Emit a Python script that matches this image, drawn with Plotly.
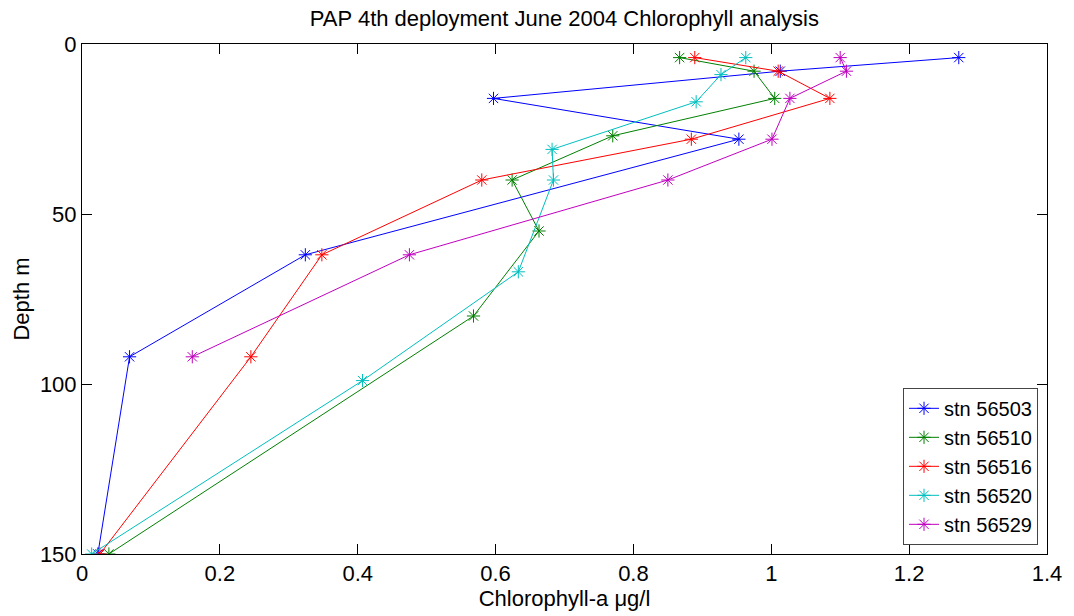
import plotly.graph_objects as go

# Data (chlorophyll-a in ug/l vs depth in m)
stations = ["stn 56503", "stn 56510", "stn 56516", "stn 56520", "stn 56529"]

depth_56503 = [4, 8, 16, 28, 62, 92, 150]
chl_56503 = [1.272, 1.013, 0.597, 0.953, 0.324, 0.069, 0.023]

depth_56510 = [4, 8, 16, 27, 40, 55, 80, 150]
chl_56510 = [0.867, 0.975, 1.005, 0.770, 0.624, 0.663, 0.568, 0.039]

depth_56516 = [4, 8, 16, 28, 40, 62, 92, 150]
chl_56516 = [0.889, 1.010, 1.085, 0.884, 0.580, 0.348, 0.245, 0.026]

depth_56520 = [4, 9, 17, 31, 40, 67, 99, 150]
chl_56520 = [0.963, 0.927, 0.891, 0.682, 0.684, 0.633, 0.407, 0.014]

depth_56529 = [4, 8, 16, 28, 40, 62, 92]
chl_56529 = [1.100, 1.109, 1.027, 1.001, 0.850, 0.475, 0.160]

x_ticks = [0, 0.2, 0.4, 0.6, 0.8, 1.0, 1.2, 1.4]
x_ticklabels = ["0", "0.2", "0.4", "0.6", "0.8", "1", "1.2", "1.4"]
y_ticks = [0, 50, 100, 150]
y_ticklabels = ["0", "50", "100", "150"]

series = [
    (chl_56503, depth_56503, "#0000ff"),
    (chl_56510, depth_56510, "#008000"),
    (chl_56516, depth_56516, "#ff0000"),
    (chl_56520, depth_56520, "#00bfbf"),
    (chl_56529, depth_56529, "#bf00bf"),
]

FONT = "Liberation Sans, Arial, Helvetica, sans-serif"
FS = 22

fig = go.Figure()
for name, (xs, ys, col) in zip(stations, series):
    fig.add_trace(go.Scatter(
        x=xs, y=ys, name=name, mode="lines+markers",
        line=dict(color=col, width=1),
        marker=dict(symbol="asterisk-open", size=11, color=col,
                    line=dict(color=col, width=1)),
    ))

axis_common = dict(
    showline=True, linecolor="black", linewidth=1, mirror="ticks",
    ticks="inside", ticklen=10, tickcolor="black", tickwidth=1,
    showgrid=False, zeroline=False,
    tickfont=dict(family=FONT, size=FS, color="black"),
)

fig.update_layout(
    width=1074, height=616,
    margin=dict(l=82, r=21, t=44, b=61),
    paper_bgcolor="white", plot_bgcolor="white",
    font=dict(family=FONT, size=FS, color="black"),
    title=dict(text="PAP 4th deployment June 2004 Chlorophyll analysis",
               x=0.5255, xanchor="center", y=1 - 18 / 616, yanchor="middle",
               yref="container",
               font=dict(family=FONT, size=FS, color="black")),
    xaxis=dict(range=[0, 1.4], tickvals=x_ticks, ticktext=x_ticklabels,
               title=dict(text="Chlorophyll-a μg/l", standoff=2,
                          font=dict(family=FONT, size=FS)),
               **axis_common),
    yaxis=dict(range=[150, 0], tickvals=y_ticks, ticktext=y_ticklabels,
               title=dict(text="Depth m", standoff=4,
                          font=dict(family=FONT, size=FS)),
               **axis_common),
    legend=dict(x=0.9907, xanchor="right", y=0.018, yanchor="bottom",
                bgcolor="white", bordercolor="#444", borderwidth=1,
                font=dict(family=FONT, size=20, color="black"),
                tracegroupgap=0, entrywidth=135, entrywidthmode="pixels"),
    showlegend=True,
)

fig.write_html("out.html")
